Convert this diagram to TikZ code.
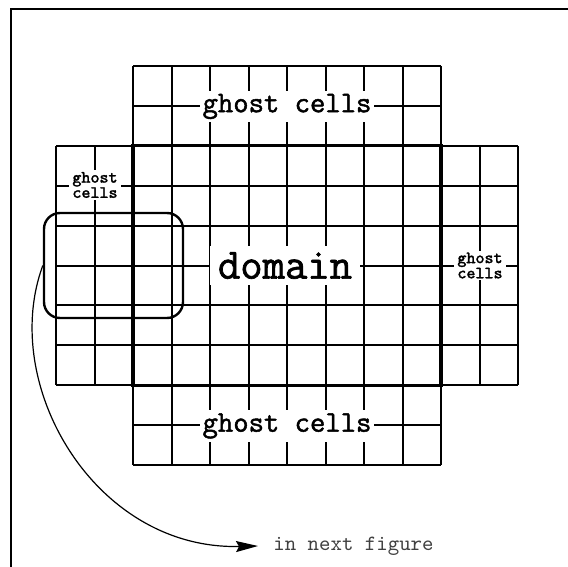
\documentclass[tikz,border=0pt]{standalone}
\usepackage{fontspec}
\setmonofont{Latin Modern Mono}[BoldFont={Latin Modern Mono}, BoldFeatures={FakeBold=1.6}]
\usetikzlibrary{arrows.meta,positioning,fit}

\begin{document}
\begin{tikzpicture}[
    x=0.5pt, y=-0.5pt,
    gridline/.style={line width=1pt},
    ghostlabel/.style={fill=white, inner xsep=1.5pt, inner ysep=1.5pt, font=\ttfamily\bfseries\fontsize{14.9}{14.9}\selectfont},
    sidelabel/.style={fill=white, align=center, inner xsep=1.5pt, inner ysep=1pt, font=\ttfamily\bfseries\fontsize{8.6}{7.6}\selectfont},
    >={Stealth[length=11pt, width=5.5pt, inset=1.5pt]}
  ]
    \useasboundingbox (0,0) rectangle (568,567);
    % frame, only top and left edges
    \draw[line width=1.2pt] (568,9) -- (11,9) -- (11,567);

    % middle band of cells, full width
    \foreach \i in {0,...,12}
      \draw[gridline] ({56+38.5*\i},{66+39.9*2}) -- ({56+38.5*\i},{66+39.9*8});
    \foreach \j in {2,...,8}
      \draw[gridline] (56,{66+39.9*\j}) -- (518,{66+39.9*\j});
    % top and bottom bands
    \foreach \i in {2,...,10} {
      \draw[gridline] ({56+38.5*\i},66) -- ({56+38.5*\i},{66+39.9*2});
      \draw[gridline] ({56+38.5*\i},{66+39.9*8}) -- ({56+38.5*\i},{66+39.9*10});
    }
    \foreach \j in {0,1,9,10}
      \draw[gridline] (133,{66+39.9*\j}) -- (441,{66+39.9*\j});
    % domain border
    \draw[line width=1.6pt] (133,145.8) rectangle (441,385.4);

    \node[ghostlabel] (topghost) at (287,106.5) {ghost cells};
    \node[ghostlabel] (botghost) at (287,426) {ghost cells};
    \node[fill=white, inner xsep=4pt, inner ysep=3pt, font=\ttfamily\bfseries\fontsize{21.7}{21.7}\selectfont] (domain) at (285,265.5) {domain};
    \node[sidelabel] (leftghost) at (95,185) {ghost\\cells};
    \node[sidelabel] (rightghost) at (480,265.5) {ghost\\cells};

    % box around the cells shown enlarged
    \coordinate (boxnw) at (44,213);
    \coordinate (boxse) at (183,318);
    \node[draw, line width=1.2pt, rounded corners=8pt, inner sep=0pt, fit=(boxnw)(boxse)] (zoom) {};

    \node[anchor=west, inner xsep=7.5pt, text=black!75, font=\ttfamily\fontsize{10.9}{10.9}\selectfont] (nextfig) at (258,546) {in next figure};
    \draw[->, line width=0.6pt] (zoom.west) .. controls +(-44,119.5) and +(-163,4) .. (nextfig.west);
\end{tikzpicture}
\end{document}
